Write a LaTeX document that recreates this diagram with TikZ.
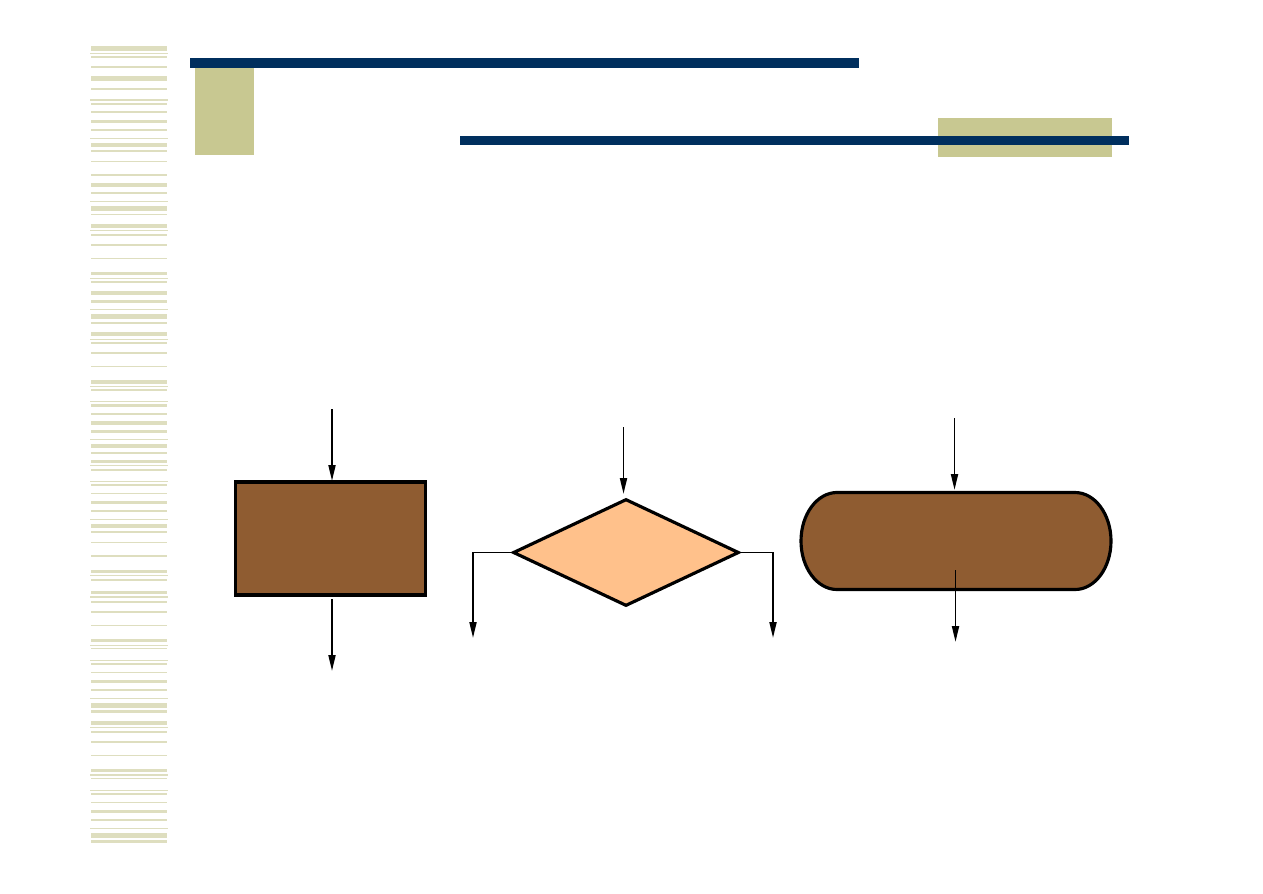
\documentclass[tikz,border=0pt]{standalone}
\usetikzlibrary{arrows.meta,shapes.geometric}
\definecolor{stripe}{HTML}{DEDEBF}
\definecolor{olive}{HTML}{C8C891}
\definecolor{navy}{HTML}{002F5E}
\definecolor{boxbrown}{HTML}{8F5C31}
\definecolor{peach}{HTML}{FFC18B}
\begin{document}
\begin{tikzpicture}[x=0.02cm,y=-0.02cm,
  flow/.style={line width=1.1pt,-{Triangle[length=0.32cm,width=0.14cm]}},
  shapeline/.style={draw=black,line width=1.8pt},
  thinstripe/.style={draw=stripe,line width=0.7pt}]
\useasboundingbox (0,0) rectangle (1263,893);
\fill[white] (0,0) rectangle (1263,893);
% left striped column
\foreach \a/\b in {46/51,76/80.7,88.3/89.7,103/104.7,120/122.7,129/130.7,143/146.7,150/151.7,174.3/175.7,183.3/186.7,192.3/193.7,206/210.7,213.7/215.3,224/227.7,234/235.7,244/246,272/274.7,280.7/282.7,291/294.7,300/302.7,314/318.7,322/323.7,332/335.7,342.3/344,352/353.7,380/383.7,389/390.7,404/406.7,413/414.7,421.3/425,430.3/432.7,444/448.3,452/453.7,460/463,469/470.7,484/485.7,501/503.7,510/511.7,524/527.7,531/532.7,555/556.7,570/573,579/580.7,591/594.3,601/602.7,611/612.7,640/641.7,647.7/649.3,663/664.7,680.3/682.7,689/690.7,703/707.7,710/712.7,721/724.7,731/732.7,741/742.7,769/771.7,777.7/779.3,793/794.7,810/812.7,819/820.7,833/838,840/842.7}
  {\fill[stripe] (91,\a) rectangle (167,\b);}
\foreach \y in {57,67,112,161.3,258.3,366.3,493.3,542.3,625.3,639.3,672.3,755.3,802.3}
  {\draw[thinstripe] (91,\y) -- (167,\y);}
\foreach \y in {53.3,100,138.3,201.3,230.3,278.3,309.3,339.3,386.3,401.3,439.3,465.7,481.3,519.3,575.3,597,645.3,660.3,698.3,727.3,775,790.3,828.3}
  {\draw[thinstripe] (90,\y) -- (168,\y);}
% header bars
\fill[olive] (195,67) rectangle (254,155);
\fill[navy] (190,58) rectangle (859,67.5);
\fill[olive] (938,118) rectangle (1112,157);
\fill[navy] (460,136) rectangle (1129,144.5);
% process box
\node[shapeline,fill=boxbrown,rectangle,inner sep=0pt,minimum width=3.8cm,minimum height=2.26cm] (proc) at (330.5,538.5) {};
\coordinate (pin) at (332,409);
\coordinate (pinend) at (332,481);
\coordinate (poutstart) at (332,599);
\coordinate (pout) at (332,671);
\draw[flow] (pin) -- (pinend);
\draw[flow] (poutstart) -- (pout);
% decision diamond
\node[shapeline,fill=peach,diamond,inner sep=0pt,minimum width=4.52cm,minimum height=2.14cm] (dec) at (626,552.5) {};
\coordinate (din) at (623.5,427);
\coordinate (dinend) at (623.5,494);
\coordinate (dlstart) at (510.5,552.5);
\coordinate (dl) at (473,638);
\coordinate (drstart) at (739.5,552.5);
\coordinate (dr) at (773,638);
\draw[flow] (din) -- (dinend);
\draw[flow] (dlstart) -| (dl);
\draw[flow] (drstart) -| (dr);
% terminal
\node[draw=none,inner sep=0pt,minimum width=6.2cm,minimum height=1.94cm] (term) at (956,541) {};
\draw[shapeline,fill=boxbrown] (837,492.5) -- (1075,492.5)
  arc[start angle=-90,end angle=90,x radius=36,y radius=48.5]
  -- (837,589.5)
  arc[start angle=90,end angle=270,x radius=36,y radius=48.5] -- cycle;
\coordinate (tin) at (954.5,418);
\coordinate (tinend) at (954.5,490);
\coordinate (toutstart) at (955.5,570);
\coordinate (tout) at (955.5,642);
\draw[flow] (tin) -- (tinend);
\draw[flow] (toutstart) -- (tout);
\end{tikzpicture}
\end{document}
